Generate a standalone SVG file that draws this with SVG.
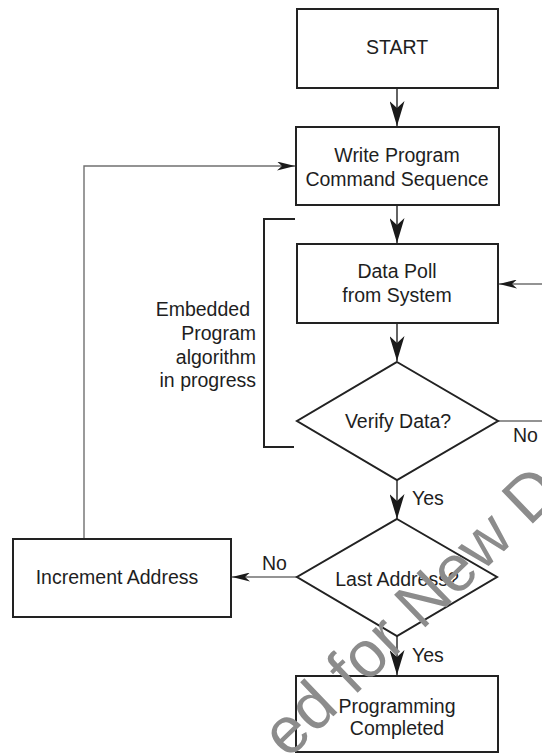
<svg xmlns="http://www.w3.org/2000/svg" width="542" height="754" viewBox="0 0 542 754">
<style>
.box{fill:#fff;stroke:#222;stroke-width:2}
.t{font-family:"Liberation Sans",Arial,sans-serif;font-size:19.5px;fill:#1e1e1e;text-anchor:middle}
.l{font-family:"Liberation Sans",Arial,sans-serif;font-size:19.5px;fill:#1e1e1e}
.c{fill:none;stroke:#222;stroke-width:1.4}
.g{fill:none;stroke:#707070;stroke-width:1.4}
.wm{font-family:"Liberation Sans",Arial,sans-serif;font-size:65.5px;fill:#8c8c8c}
</style>
<defs>
<marker id="big" markerUnits="userSpaceOnUse" markerWidth="25" markerHeight="15" refX="25" refY="7.5" orient="auto" viewBox="0 0 25 15">
<path d="M0,0 L25,7.5 L0,15 L7,7.5 Z" fill="#1a1a1a"/>
</marker>
<marker id="small" markerUnits="userSpaceOnUse" markerWidth="18" markerHeight="9" refX="18" refY="4.5" orient="auto" viewBox="0 0 18 9">
<path d="M0,0 L18,4.5 L0,9 L5,4.5 Z" fill="#1a1a1a"/>
</marker>
</defs>
<rect width="542" height="754" fill="#fff"/>
<g id="connectors">
<line class="c" x1="397" y1="88" x2="397" y2="126" marker-end="url(#big)"/>
<line class="c" x1="397" y1="205" x2="397" y2="243" marker-end="url(#big)"/>
<line class="c" x1="397" y1="323" x2="397" y2="361" marker-end="url(#big)"/>
<line class="c" x1="397" y1="480" x2="397" y2="519" marker-end="url(#big)"/>
<line class="c" x1="397" y1="636" x2="397" y2="675" marker-end="url(#big)"/>
<path class="g" d="M498,421 H550 V284 H499" marker-end="url(#small)"/>
<line class="g" x1="297" y1="577" x2="232" y2="577" marker-end="url(#small)"/>
<path class="g" d="M84,539 V166 H295" marker-end="url(#small)"/>
<text class="l" x="513" y="442">No</text>
<text class="l" x="412" y="505">Yes</text>
<text class="l" x="262" y="570">No</text>
<text class="l" x="412" y="662">Yes</text>
</g>
<g id="start">
<rect class="box" x="297" y="9" width="201" height="79"/>
<text class="t" x="397" y="54">START</text>
</g>
<g id="write">
<rect class="box" x="296" y="127" width="203" height="78"/>
<text class="t" x="397" y="162">Write Program</text>
<text class="t" x="397" y="186">Command Sequence</text>
</g>
<g id="bracket">
<path d="M295,219 H264 V447 H294" fill="none" stroke="#222" stroke-width="2"/>
<text class="l" x="250" y="316" text-anchor="end">Embedded</text>
<text class="l" x="256" y="340" text-anchor="end">Program</text>
<text class="l" x="256" y="364" text-anchor="end">algorithm</text>
<text class="l" x="256" y="387" text-anchor="end">in progress</text>
</g>
<g id="datapoll">
<rect class="box" x="297" y="244" width="201" height="79"/>
<text class="t" x="397" y="278">Data Poll</text>
<text class="t" x="397" y="302">from System</text>
</g>
<g id="verify">
<polygon class="box" points="397,362 498,421 397,480 297,421"/>
<text class="t" x="398" y="428">Verify Data?</text>
</g>
<g id="last">
<polygon class="box" points="397,519 497,577 397,636 297,577"/>
<text class="t" x="397" y="586">Last Address?</text>
</g>
<g id="increment">
<rect class="box" x="13" y="539" width="218" height="78"/>
<text class="t" x="117" y="584">Increment Address</text>
</g>
<g id="completed">
<rect class="box" x="296" y="676" width="202" height="76"/>
<text class="t" x="397" y="713">Programming</text>
<text class="t" x="397" y="735">Completed</text>
</g>
<text class="wm" transform="translate(288,760) rotate(-44)">ed for New D</text>
</svg>
